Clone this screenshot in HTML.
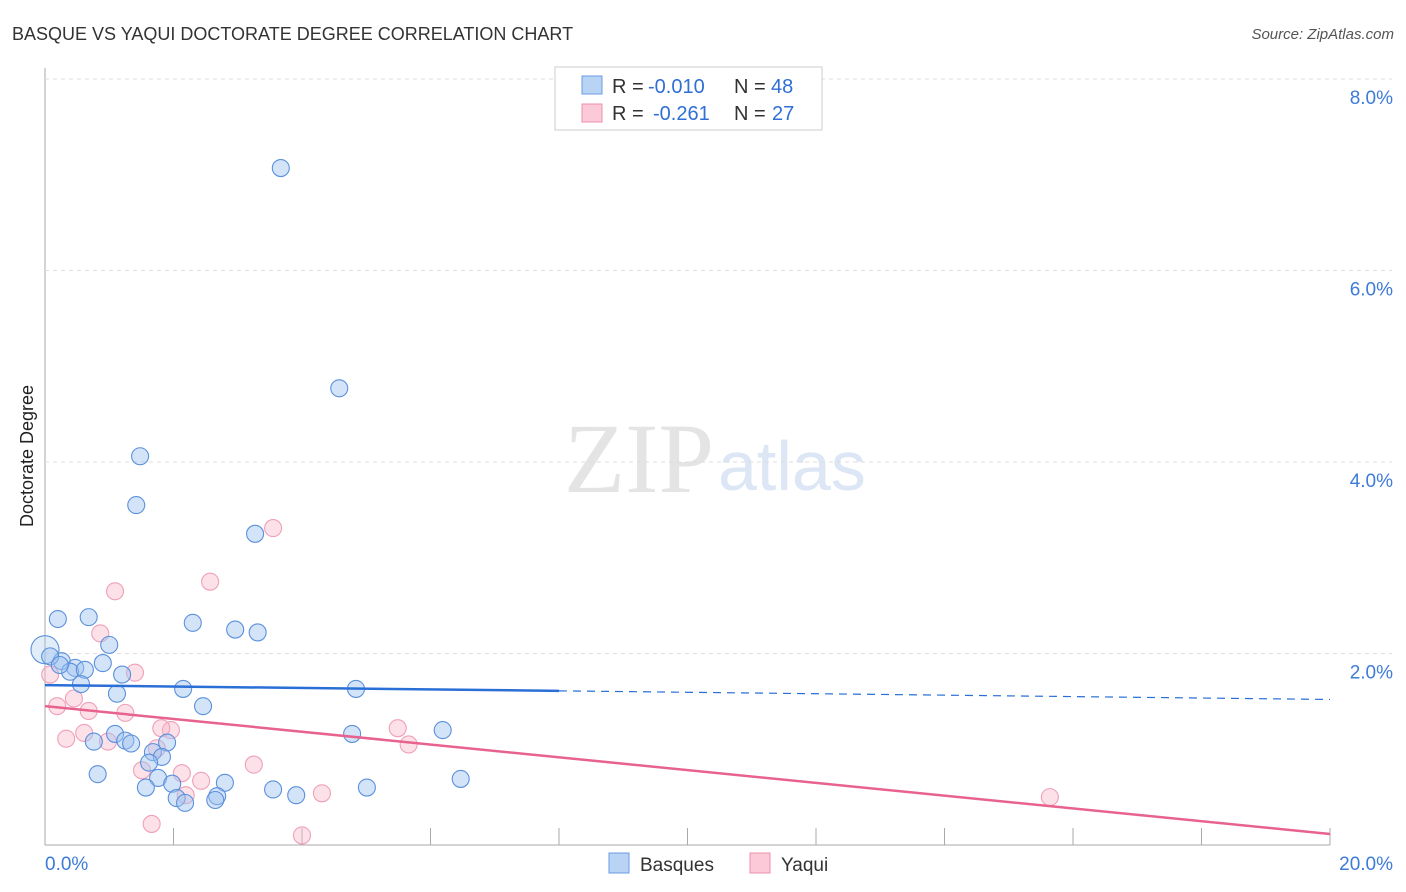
<!DOCTYPE html>
<html><head><meta charset="utf-8"><style>
body{margin:0;background:#fff;font-family:"Liberation Sans",sans-serif;}
svg{display:block}
</style></head><body>
<svg id="chart" width="1406" height="892">
<text x="12" y="40" font-size="18" fill="#333">BASQUE VS YAQUI DOCTORATE DEGREE CORRELATION CHART</text>
<text x="1394" y="39" font-size="15" fill="#555" font-style="italic" text-anchor="end">Source: ZipAtlas.com</text>
<text x="714" y="492" font-size="100" fill="#e4e4e4" text-anchor="end" font-family="Liberation Serif,serif">ZIP</text>
<text x="718" y="490" font-size="70" fill="#dce6f5">atlas</text>
<text transform="translate(33,456) rotate(-90)" font-size="18" fill="#222" text-anchor="middle">Doctorate Degree</text>
<g id="grid"></g><g id="marks"></g>
<g>
<rect x="555" y="67" width="267" height="63" fill="#fff" stroke="#ccc"/>
<rect x="582" y="76" width="20" height="18" fill="#b9d3f5" stroke="#6a9be0"/>
<rect x="582" y="104" width="20" height="18" fill="#fbc9d8" stroke="#ee8fab"/>
<text x="612" y="93" font-size="20" fill="#333">R =</text>
<text x="648" y="93" font-size="20" fill="#2f6fd6">-0.010</text>
<text x="734" y="93" font-size="20" fill="#333">N =</text>
<text x="771" y="93" font-size="20" fill="#2f6fd6">48</text>
<text x="612" y="120" font-size="20" fill="#333">R =</text>
<text x="653" y="120" font-size="20" fill="#2f6fd6">-0.261</text>
<text x="734" y="120" font-size="20" fill="#333">N =</text>
<text x="772" y="120" font-size="20" fill="#2f6fd6">27</text>
</g>
<g>
<rect x="609" y="853" width="20" height="20" fill="#b9d3f5" stroke="#6a9be0"/>
<text x="640" y="871" font-size="19" fill="#333">Basques</text>
<rect x="750" y="853" width="20" height="20" fill="#fbc9d8" stroke="#ee8fab"/>
<text x="781" y="871" font-size="19" fill="#333">Yaqui</text>
</g>
</svg>
<script>
const xTicks=[0,2,4,6,8,10,12,14,16,18,20];
const yTicks=[2,4,6,8];
const basqueX=[3.67,4.58,1.48,1.42,3.27,0.20,0.68,2.30,2.96,3.31,1.00,0.0,0.26,0.47,0.39,0.62,0.90,0.56,1.20,1.12,2.15,4.84,2.46,0.76,1.09,1.25,1.34,1.90,1.68,1.82,1.62,4.78,6.19,0.82,1.76,1.57,1.98,2.80,3.55,3.91,5.01,6.47,2.05,2.18,2.68,2.65,0.08,0.23];
const basqueY=[7.07,4.77,4.06,3.55,3.25,2.36,2.38,2.32,2.25,2.22,2.09,2.04,1.92,1.85,1.81,1.83,1.90,1.68,1.78,1.58,1.63,1.63,1.45,1.08,1.16,1.09,1.06,1.07,0.97,0.92,0.86,1.16,1.20,0.74,0.70,0.60,0.64,0.65,0.58,0.52,0.60,0.69,0.49,0.44,0.51,0.47,1.97,1.88];
const yaquiX=[3.55,2.57,1.09,0.86,1.40,0.08,0.45,0.19,0.68,1.25,1.96,1.81,0.61,0.33,0.98,1.74,5.49,5.66,3.25,1.51,2.13,2.43,4.31,2.19,1.66,4.00,15.64];
const yaquiY=[3.31,2.75,2.65,2.21,1.80,1.78,1.53,1.45,1.40,1.38,1.20,1.22,1.17,1.11,1.08,1.01,1.22,1.05,0.84,0.78,0.75,0.67,0.54,0.52,0.22,0.10,0.50];
const basqueTrend=[1.67,1.52];
const yaquiTrend=[1.45,0.115];
const X=v=>45+v/20*1285, Y=v=>845-v*95.75;
const NS='http://www.w3.org/2000/svg';
const grid=document.getElementById('grid'), marks=document.getElementById('marks');
function mk(tag,attrs,parent){const e=document.createElementNS(NS,tag);for(const k in attrs)e.setAttribute(k,attrs[k]);parent.appendChild(e);return e;}
let ax=mk('line',{x1:45,y1:68,x2:45,y2:845,stroke:'#aaa'},grid);


let bx=mk('line',{x1:45,y1:845,x2:1330,y2:845,stroke:'#aaa'},grid);


yTicks.forEach(t=>{
 let g=mk('line',{x1:45,y1:Y(t),x2:1392,y2:Y(t),stroke:'#ddd','stroke-dasharray':'4,4'},grid);
 
 
 let l=mk('text',{x:1393,y:Y(t)+25,'font-size':19,fill:'#3d7bd9','text-anchor':'end'},grid);
 l.textContent=t.toFixed(1)+'%';
 
 
});
xTicks.forEach((t,i)=>{
 if(i>0){let k=mk('line',{x1:X(t),y1:828,x2:X(t),y2:845,stroke:'#aaa'},grid);
 
 }
 if(i==0||i==xTicks.length-1){
 let l=mk('text',{x:i==0?45:1393,y:870,'font-size':19,fill:'#3d7bd9','text-anchor':i==0?'start':'end'},grid);
 l.textContent=t.toFixed(1)+'%';
 
 }
});
yaquiX.forEach((x,i)=>{
 let c=mk('circle',{cx:X(x),cy:Y(yaquiY[i]),r:8.5,fill:'rgba(248,180,200,0.4)',stroke:'#f0a0b8','stroke-width':1.1},marks);
 
 
});
basqueX.forEach((x,i)=>{
 let c=mk('circle',{cx:X(x),cy:Y(basqueY[i]),r:i==11?14:8.5,fill:i==11?'rgba(160,195,240,0.3)':'rgba(160,195,240,0.45)',stroke:'#5b90dc','stroke-width':1.1},marks);
 
 
});
const bAt=v=>basqueTrend[0]+(basqueTrend[1]-basqueTrend[0])*v/20;
let b1=mk('line',{x1:X(0),y1:Y(bAt(0)),x2:X(8),y2:Y(bAt(8)),stroke:'#2a6fd6','stroke-width':2.5},marks);


let b2=mk('line',{x1:X(8),y1:Y(bAt(8)),x2:X(20),y2:Y(bAt(20)),stroke:'#2a6fd6','stroke-width':1.2,'stroke-dasharray':'8,6'},marks);


let y1=mk('line',{x1:X(0),y1:Y(yaquiTrend[0]),x2:X(20),y2:Y(yaquiTrend[1]),stroke:'#e8628f','stroke-width':2.5},marks);


</script>
</body></html>
